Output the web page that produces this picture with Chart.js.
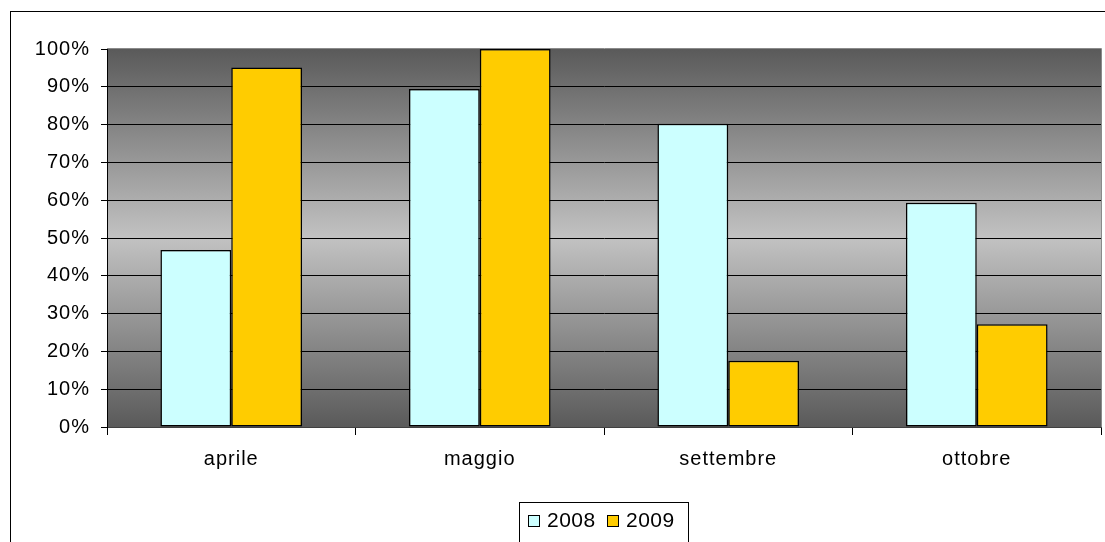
<!DOCTYPE html>
<html>
<head>
    <style>
        html, body { margin: 0; padding: 0; background: #ffffff; overflow: hidden; }
        .chart-box { position: relative; width: 1105px; height: 542px; }
    </style>
    <script src="https://cdn.jsdelivr.net/npm/chart.js"></script>
</head>
<body>
    <div class="chart-box">
        <canvas id="myBarChart" width="1105" height="542"></canvas>
    </div>
    <script>
        // chart data
        var months = ['aprile', 'maggio', 'settembre', 'ottobre'];
        var seriesNames = ['2008', '2009'];
        var values2008 = [0.468, 0.894, 0.802, 0.593];
        var values2009 = [0.951, 1.0, 0.175, 0.272];
        var yTicks = [0, 0.1, 0.2, 0.3, 0.4, 0.5, 0.6, 0.7, 0.8, 0.9, 1.0];

        var fill2008 = '#CCFFFF';
        var fill2009 = '#FFCC00';

        Chart.defaults.font.family = '"Liberation Sans", Arial, sans-serif';
        Chart.defaults.font.size = 20;
        Chart.defaults.color = '#000000';

        // grey gradient behind the bars, plus outer frame and legend box
        var decorPlugin = {
            id: 'decor',
            beforeDraw: function (chart) {
                var c = chart.ctx, a = chart.chartArea;
                c.save();
                c.fillStyle = '#ffffff';
                c.fillRect(0, 0, chart.width, chart.height);
                c.strokeStyle = '#000000';
                c.lineWidth = 1;
                c.strokeRect(10.5, 11.5, chart.width + 20, chart.height + 20);
                var g = c.createLinearGradient(0, a.top, 0, a.bottom);
                g.addColorStop(0, '#5a5a5a');
                g.addColorStop(0.5, '#c2c2c2');
                g.addColorStop(1, '#5a5a5a');
                c.fillStyle = g;
                c.fillRect(a.left, a.top, a.right - a.left, a.bottom - a.top);
                c.strokeStyle = '#8a8a8a';
                c.beginPath();
                c.moveTo(a.left, a.top - 0.5);
                c.lineTo(a.right + 0.5, a.top - 0.5);
                c.lineTo(a.right + 0.5, a.bottom);
                c.stroke();
                c.restore();
                // the original text is drawn a little wide
                c.letterSpacing = '1px';
            },
            afterDraw: function (chart) {
                var c = chart.ctx;
                c.save();
                // legend
                var bx = 519, by = 502, bw = 169, bh = 40;
                c.strokeStyle = '#000000';
                c.lineWidth = 1;
                c.strokeRect(bx + 0.5, by + 0.5, bw, bh);
                c.font = '21px "Liberation Sans", Arial, sans-serif';
                c.letterSpacing = '0.5px';
                c.textBaseline = 'middle';
                c.textAlign = 'left';
                var items = [
                    { x: 528, color: fill2008, label: chart.data.datasets[0].label },
                    { x: 607, color: fill2009, label: chart.data.datasets[1].label }
                ];
                items.forEach(function (it) {
                    c.fillStyle = it.color;
                    c.fillRect(it.x, 515, 11, 11);
                    c.strokeRect(it.x + 0.5, 515.5, 11, 11);
                    c.fillStyle = '#000000';
                    c.fillText(it.label, it.x + 19, 521);
                });
                c.restore();
            }
        };

        var ctx = document.getElementById('myBarChart').getContext('2d');
        var myBarChart = new Chart(ctx, {
            type: 'bar',
            data: {
                labels: months,
                datasets: [{
                    label: seriesNames[0],
                    data: values2008,
                    backgroundColor: fill2008,
                    borderColor: '#000000',
                    borderWidth: 1.5,
                    borderSkipped: false
                }, {
                    label: seriesNames[1],
                    data: values2009,
                    backgroundColor: fill2009,
                    borderColor: '#000000',
                    borderWidth: 1.5,
                    borderSkipped: false
                }]
            },
            options: {
                responsive: false,
                animation: false,
                layout: { padding: { left: 0, top: 49, right: 4, bottom: 65 } },
                datasets: { bar: { categoryPercentage: 0.57, barPercentage: 1.0 } },
                plugins: {
                    legend: { display: false },
                    tooltip: { enabled: false }
                },
                scales: {
                    x: {
                        offset: true,
                        afterFit: function (s) { s.height = 50; },
                        grid: {
                            offset: true,
                            drawOnChartArea: false,
                            drawTicks: true,
                            tickLength: 8,
                            color: '#000000'
                        },
                        border: { display: true, color: '#404040', width: 1 },
                        ticks: { padding: 12, color: '#000000', font: { size: 20 } }
                    },
                    y: {
                        min: 0,
                        max: 1,
                        afterFit: function (s) { s.width = 107; },
                        afterBuildTicks: function (s) {
                            s.ticks = yTicks.map(function (v) { return { value: v }; });
                        },
                        grid: {
                            drawTicks: true,
                            tickLength: 6,
                            color: function (c) {
                                if (c.tick && c.tick.value >= 1) return 'rgba(0,0,0,0)';
                                return '#000000';
                            },
                            tickColor: '#000000'
                        },
                        border: { display: true, color: '#000000', width: 1 },
                        ticks: {
                            padding: 11,
                            color: '#000000',
                            font: { size: 20 },
                            callback: function (v) { return Math.round(v * 100) + '%'; }
                        }
                    }
                }
            },
            plugins: [decorPlugin]
        });
    </script>
</body>
</html>
